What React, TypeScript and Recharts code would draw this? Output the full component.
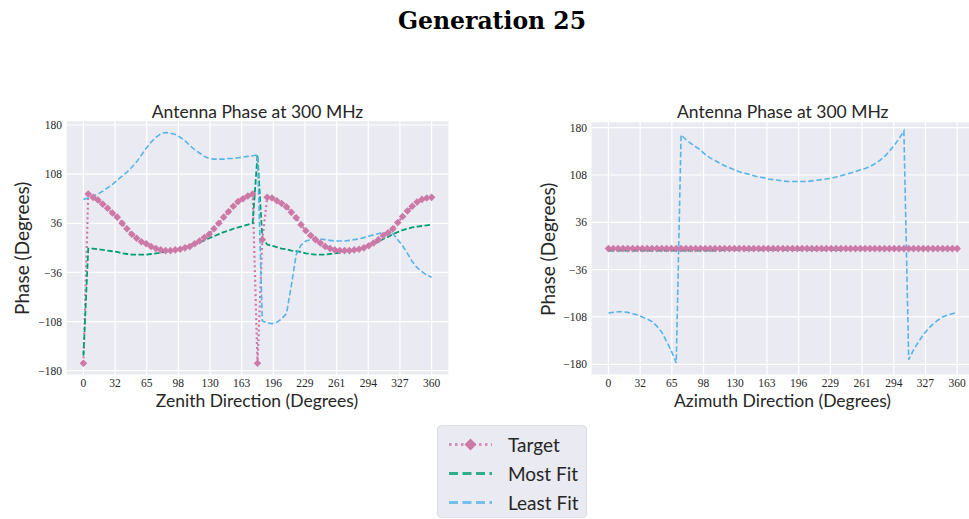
import React from 'react';
import { LineChart, Line, XAxis, YAxis, CartesianGrid } from 'recharts';

const DEG = [
  0, 5, 10, 15, 20, 25, 30, 35, 40, 45, 50, 55, 60, 65, 70, 75, 80, 85, 90, 95, 100, 105, 110, 115, 120,
  125, 130, 135, 140, 145, 150, 155, 160, 165, 170, 175, 180, 185, 190, 195, 200, 205, 210, 215, 220, 225,
  230, 235, 240, 245, 250, 255, 260, 265, 270, 275, 280, 285, 290, 295, 300, 305, 310, 315, 320, 325, 330,
  335, 340, 345, 350, 355, 360,
];

const X_TICKS = [0, 32.73, 65.45, 98.18, 130.91, 163.64, 196.36, 229.09, 261.82, 294.55, 327.27, 360];
const X_LABELS = ['0', '32', '65', '98', '130', '163', '196', '229', '261', '294', '327', '360'];
const Y_TICKS = [-180, -108, -36, 36, 108, 180];

// zenith cut
const ZEN_TARGET = [
  -169, 79, 74, 70, 64, 58, 51, 45, 36, 28, 20, 14, 9, 6, 2, -1, -3, -4, -4, -3, -2, 0, 2, 6, 10,
  15, 20, 28, 36, 45, 53, 61, 68, 72, 76, 79, -169, 12, 74, 73, 69, 65, 60, 52, 44, 34,
  25, 18, 12, 7, 2, -1, -3, -4, -4, -4, -3, -2, 0, 3, 7, 12, 18, 22, 28, 37, 46,
  54, 61, 67, 71, 73, 74,
];
const ZEN_MOST = [
  -158, -1, -1, -2, -3, -4, -5, -6, -8, -9, -10, -10, -10, -10, -9, -8, -7, -6, -5, -3, -1, 1, 3, 5, 8,
  11, 14, 17, 20, 23, 25, 28, 30, 32, 34, 36, 136, 14, 5, 3, 1, -1, -2, -4, -5, -6,
  -8, -9, -10, -10, -10, -9, -8, -7, -5, -4, -3, -1, 1, 3, 6, 9, 13, 16, 20, 23, 26,
  28, 30, 31, 32, 33, 34,
];
const ZEN_LEAST = [
  71, 73, 76, 79, 83, 88, 93, 99, 105, 111, 118, 126, 136, 146, 155, 162, 167, 169, 168, 166, 162, 157, 150, 144, 139,
  134, 131, 130, 130, 130, 131, 131, 132, 133, 134, 135, 136, -107, -110, -111, -109, -104, -96, -55, -10, 4,
  10, 12, 13, 13, 12, 11, 10, 10, 10, 11, 12, 13, 15, 17, 19, 21, 22, 22, 21, 12, 3,
  -8, -20, -29, -35, -40, -43,
];

// azimuth cut
const AZI_TARGET = [
  -4, -4, -4, -4, -4, -4, -4, -4, -4, -4, -4, -4, -4, -4, -4, -4, -4, -4, -4, -4, -4, -4, -4, -4, -4,
  -4, -4, -4, -4, -4, -4, -4, -4, -4, -4, -4, -4, -4, -4, -4, -4, -4, -4, -4, -4, -4,
  -4, -4, -4, -4, -4, -4, -4, -4, -4, -4, -4, -4, -4, -4, -4, -4, -4, -4, -4, -4, -4,
  -4, -4, -4, -4, -4, -4,
];
const AZI_MOST = [
  -7, -7, -7, -7, -7, -7, -7, -7, -7, -7, -7, -7, -7, -7, -7, -7, -7, -7, -7, -7, -7, -7, -7, -7, -6,
  -6, -6, -6, -6, -6, -6, -6, -6, -6, -6, -6, -6, -6, -6, -6, -6, -6, -6, -6, -6, -6,
  -6, -6, -6, -5, -5, -5, -5, -5, -5, -5, -5, -5, -5, -5, -5, -5, -5, -5, -5, -5, -5,
  -5, -5, -5, -5, -5, -5,
];
const AZI_LEAST = [
  -102, -101, -100, -100, -101, -103, -105, -108, -111, -115, -122, -131, -145, -160, -178, 169, 162, 156, 151, 146, 139, 134, 130, 126, 122,
  119, 116, 113, 111, 109, 107, 105, 104, 102, 101, 100, 99, 98, 98, 98, 98, 98, 99, 100, 101, 102,
  103, 105, 107, 109, 111, 113, 116, 118, 121, 125, 130, 136, 144, 153, 163, 175, -173, -158, -146, -135, -126,
  -119, -113, -108, -105, -103, -101,
];

const PINK = '#CC79A7';
const GREEN = '#009E73';
const BLUE = '#56B4E9';
const TEXT = '#262626';
const SANS = 'Lato, "DejaVu Sans", sans-serif';
const SERIF = '"Liberation Serif", "DejaVu Serif", serif';

const minus = (v: number) => (v < 0 ? `\u2212${Math.abs(v)}` : `${v}`);

const Diamond = (props: any) => {
  const { cx, cy, index } = props;
  if (cx == null || cy == null) return <g key={`d-${index}`} />;
  const r = 3.8;
  return (
    <path
      key={`d-${index}`}
      d={`M${cx},${cy - r}L${cx + r},${cy}L${cx},${cy + r}L${cx - r},${cy}Z`}
      fill={PINK}
    />
  );
};

function PhasePlot({ target, most, least, yDomain, yWidth, top, right }: any) {
  const data = DEG.map((d, i) => ({ deg: d, target: target[i], most: most[i], least: least[i] }));
  return (
    <LineChart width={460} height={320} data={data} margin={{ top, right, bottom: 25, left: 0 }}>
      <CartesianGrid fill="#EAEAF2" stroke="#ffffff" strokeWidth={1.2} />
      <XAxis
        dataKey="deg"
        type="number"
        domain={[-18, 378]}
        ticks={X_TICKS}
        allowDataOverflow
        height={20}
        tickFormatter={(v, i) => X_LABELS[i]}
        tickLine={false}
        axisLine={false}
        tickSize={0}
        tickMargin={4}
        tick={{ fill: TEXT, fontSize: 11.5, fontFamily: SERIF }}
        interval={0}
      />
      <YAxis
        type="number"
        domain={yDomain}
        ticks={Y_TICKS}
        allowDataOverflow
        width={yWidth}
        tickFormatter={minus}
        tickLine={false}
        axisLine={false}
        tickSize={0}
        tickMargin={4}
        tick={{ fill: TEXT, fontSize: 11.5, fontFamily: SERIF }}
        interval={0}
      />
      <Line
        dataKey="target"
        type="linear"
        stroke={PINK}
        strokeWidth={2.2}
        strokeDasharray="2 2.8"
        dot={Diamond}
        activeDot={false}
        isAnimationActive={false}
      />
      <Line
        dataKey="most"
        type="linear"
        stroke={GREEN}
        strokeWidth={1.8}
        strokeDasharray="5.5 2.4"
        dot={false}
        activeDot={false}
        isAnimationActive={false}
      />
      <Line
        dataKey="least"
        type="linear"
        stroke={BLUE}
        strokeWidth={1.6}
        strokeDasharray="5.5 2.6"
        dot={false}
        activeDot={false}
        isAnimationActive={false}
      />
    </LineChart>
  );
}

const abs = (left: number, top: number, extra: React.CSSProperties = {}): React.CSSProperties => ({
  position: 'absolute',
  left,
  top,
  ...extra,
});

const centered = (cx: number, cy: number, size: number, extra: React.CSSProperties = {}): React.CSSProperties => ({
  position: 'absolute',
  left: cx - 200,
  top: cy - size * 0.7,
  width: 400,
  textAlign: 'center',
  fontSize: size,
  lineHeight: `${size * 1.4}px`,
  color: TEXT,
  fontFamily: SANS,
  whiteSpace: 'nowrap',
  ...extra,
});

const LEGEND = [
  { label: 'Target', color: PINK, dash: '2.5 3.5', width: 3, marker: true },
  { label: 'Most Fit', color: GREEN, dash: '9 4.5', width: 3, marker: false },
  { label: 'Least Fit', color: BLUE, dash: '9 4.5', width: 3, marker: false },
];

export default function App() {
  return (
    <div style={{ position: 'fixed', left: 0, top: 0, width: 969, height: 519, overflow: 'hidden', background: '#fff' }}>
      <div
        style={centered(492, 21, 23.5, { fontFamily: '"DejaVu Serif", serif', fontWeight: 'bold', color: '#000' })}
      >
        Generation 25
      </div>

      <div style={abs(0, 100)}>
        <PhasePlot
          target={ZEN_TARGET}
          most={ZEN_MOST}
          least={ZEN_LEAST}
          yDomain={[-186.3, 186.3]}
          yWidth={66}
          top={20.7}
          right={11}
        />
      </div>
      <div style={abs(520, 100)}>
        <PhasePlot
          target={AZI_TARGET}
          most={AZI_MOST}
          least={AZI_LEAST}
          yDomain={[-196.3, 189.1]}
          yWidth={71}
          top={21.7}
          right={5.4}
        />
      </div>

      <div style={centered(257.5, 112, 17.5)}>Antenna Phase at 300 MHz</div>
      <div style={centered(782.8, 112, 17.5)}>Antenna Phase at 300 MHz</div>
      <div style={centered(257, 401, 17.5)}>Zenith Direction (Degrees)</div>
      <div style={centered(782.5, 401, 17.5)}>Azimuth Direction (Degrees)</div>
      <div style={centered(21.7, 248.7, 19, { transform: 'rotate(-90deg)' })}>Phase (Degrees)</div>
      <div style={centered(548.3, 249, 19, { transform: 'rotate(-90deg)' })}>Phase (Degrees)</div>

      <div
        style={abs(437, 425, {
          width: 150,
          height: 93,
          background: '#EAEAF2',
          border: '1px solid #dcdce4',
          borderRadius: 4,
          boxSizing: 'border-box',
        })}
      >
        {LEGEND.map((e, i) => (
          <div key={e.label} style={abs(0, 4 + i * 29, { width: 150, height: 29 })}>
            <svg width={60} height={29} style={{ position: 'absolute', left: 6, top: 0 }}>
              <line
                x1={5}
                x2={48}
                y1={14.5}
                y2={14.5}
                stroke={e.color}
                strokeOpacity={0.8}
                strokeWidth={e.width}
                strokeDasharray={e.dash}
              />
              {e.marker && <path d="M26.5,8.5L32.5,14.5L26.5,20.5L20.5,14.5Z" fill={e.color} />}
            </svg>
            <div
              style={{
                position: 'absolute',
                left: 70,
                top: 0,
                lineHeight: '29px',
                fontSize: 19,
                fontFamily: SANS,
                color: TEXT,
              }}
            >
              {e.label}
            </div>
          </div>
        ))}
      </div>
    </div>
  );
}
